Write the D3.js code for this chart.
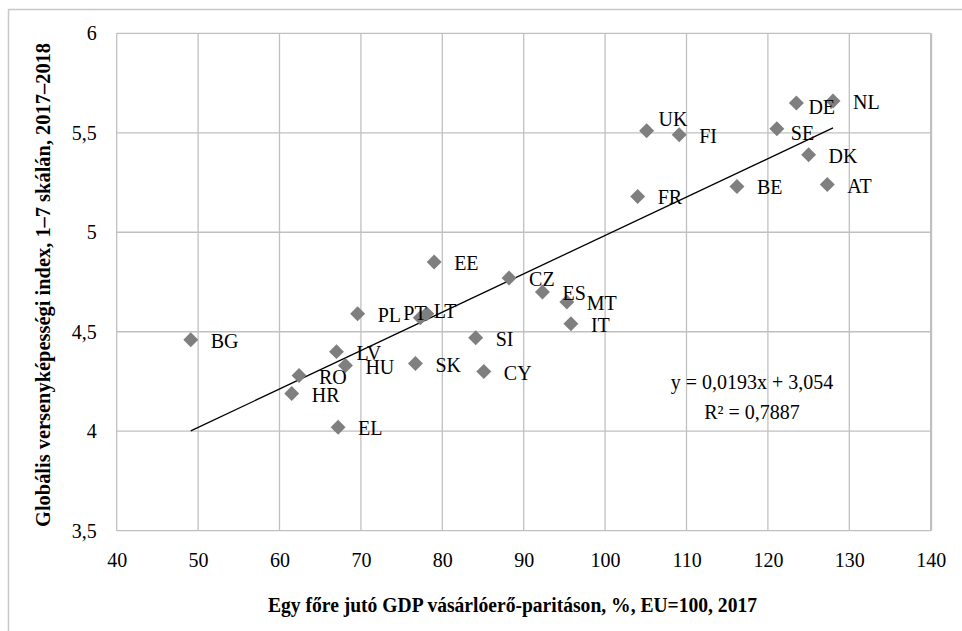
<!DOCTYPE html>
<html>
<head>
<meta charset="utf-8">
<script src="https://cdn.jsdelivr.net/npm/d3@7"></script>
<style>
  html, body { margin: 0; padding: 0; background: #fff; }
  svg { display: block; }
  text { font-family: "Liberation Serif", "DejaVu Serif", serif; fill: #000; }
</style>
</head>
<body>
<svg id="chart" width="962" height="631"></svg>
<script>
// ---- data ----
const countries = ["BG","HR","RO","LV","HU","EL","PL","PT","LT","SK","EE","SI","CY","CZ","ES","MT","IT","FR","UK","FI","BE","SE","DE","NL","DK","AT"];
const gdpPPS   = [49.1, 61.5, 62.4, 67.0, 68.1, 67.2, 69.6, 77.3, 78.1, 76.7, 79.0, 84.1, 85.1, 88.2, 92.3, 95.3, 95.8, 104.0, 105.1, 109.1, 116.2, 121.1, 123.5, 128.0, 125.0, 127.3];
const gciScore = [4.46, 4.19, 4.28, 4.40, 4.33, 4.02, 4.59, 4.57, 4.59, 4.34, 4.85, 4.47, 4.30, 4.77, 4.70, 4.65, 4.54, 5.18, 5.51, 5.49, 5.23, 5.52, 5.65, 5.66, 5.39, 5.24];
const xTicks = [40, 50, 60, 70, 80, 90, 100, 110, 120, 130, 140];
const yTicks = [3.5, 4, 4.5, 5, 5.5, 6];
const trendSlope = 0.0193;
const trendIntercept = 3.054;
const equationText = "y = 0,0193x + 3,054";
const r2Text = "R² = 0,7887";
const xTitle = "Egy főre jutó GDP vásárlóerő-paritáson, %, EU=100, 2017";
const yTitle = "Globális versenyképességi index, 1–7 skálán, 2017–2018";

// ---- layout ----
const svg = d3.select("#chart");
const L = 116.7, R = 930.7, T = 33.3, B = 530.7;
const x = d3.scaleLinear().domain([40, 140]).range([L, R]);
const y = d3.scaleLinear().domain([3.5, 6]).range([B, T]);
const fmt = v => String(v).replace(".", ",");

// outer frame
svg.append("path").attr("d", `M8.5,631 V9.5 H962`).attr("fill", "none").attr("stroke", "#c8c8c8").attr("stroke-width", 1.5);

// gridlines
const grid = svg.append("g").attr("stroke", "#c0c0c0").attr("stroke-width", 1.3);
xTicks.forEach(t => grid.append("line").attr("x1", x(t)).attr("x2", x(t)).attr("y1", T).attr("y2", B));
yTicks.forEach(t => grid.append("line").attr("x1", L).attr("x2", R).attr("y1", y(t)).attr("y2", y(t)));
svg.append("line").attr("x1", R + 0.5).attr("x2", R + 0.5).attr("y1", T).attr("y2", B).attr("stroke", "#c0c0c0").attr("stroke-width", 2);

// axes (labels only, via d3 axes)
const xAxis = svg.append("g").attr("transform", `translate(0,${B})`)
  .call(d3.axisBottom(x).tickValues(xTicks).tickSize(0).tickPadding(22).tickFormat(fmt));
xAxis.select(".domain").remove();
xAxis.selectAll("text").style("font-size", "20px").style("font-family", "Liberation Serif");

const yAxis = svg.append("g").attr("transform", `translate(${L},0)`)
  .call(d3.axisLeft(y).tickValues(yTicks).tickSize(0).tickPadding(20).tickFormat(fmt));
yAxis.select(".domain").remove();
yAxis.selectAll("text").style("font-size", "20px").style("font-family", "Liberation Serif");

// trend line
const xMin = d3.min(gdpPPS), xMax = d3.max(gdpPPS);
svg.append("line")
  .attr("x1", x(xMin)).attr("y1", y(trendSlope * xMin + trendIntercept))
  .attr("x2", x(xMax)).attr("y2", y(trendSlope * xMax + trendIntercept))
  .attr("stroke", "#000").attr("stroke-width", 1.3);

// points
const pts = countries.map((c, i) => ({ c, x: gdpPPS[i], y: gciScore[i] }));
const diamond = d3.symbol().type(d3.symbolSquare).size(112);
svg.append("g").selectAll("path").data(pts).join("path")
  .attr("d", diamond)
  .attr("transform", d => `translate(${x(d.x)},${y(d.y)}) rotate(45)`)
  .attr("fill", "#7f7f7f");

// labels
const labelShift = { PT: [-17, -5], LT: [7, -3], UK: [12, -12], SE: [14, 4], DE: [12, 4], HR: [20, 2] };
svg.append("g").selectAll("text").data(pts).join("text")
  .attr("x", d => x(d.x) + (labelShift[d.c] ? labelShift[d.c][0] : 20))
  .attr("y", d => y(d.y) + (labelShift[d.c] ? labelShift[d.c][1] : 1))
  .attr("dy", "0.35em")
  .style("font-size", "20px")
  .text(d => d.c);

// equation
svg.append("text").attr("x", 752).attr("y", 389).attr("text-anchor", "middle").style("font-size", "20px").text(equationText);
svg.append("text").attr("x", 752).attr("y", 419).attr("text-anchor", "middle").style("font-size", "20px").text(r2Text);

// axis titles
svg.append("text").attr("x", 512.5).attr("y", 612).attr("text-anchor", "middle")
  .attr("textLength", 489).attr("lengthAdjust", "spacingAndGlyphs")
  .style("font-size", "20px").style("font-weight", "bold").text(xTitle);
svg.append("text").attr("transform", "translate(50,285) rotate(-90)").attr("text-anchor", "middle")
  .attr("textLength", 484).attr("lengthAdjust", "spacingAndGlyphs")
  .style("font-size", "20px").style("font-weight", "bold").text(yTitle);
</script>
</body>
</html>
